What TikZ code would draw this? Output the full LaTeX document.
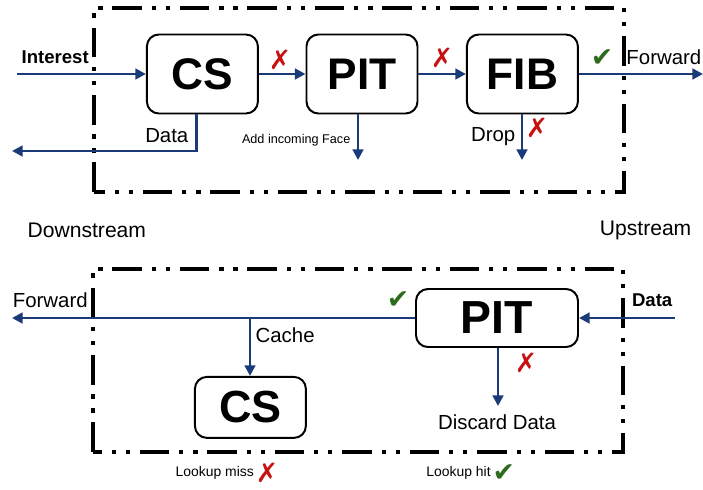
\documentclass[tikz,border=0pt]{standalone}
\usepackage{fontspec}
\setmainfont{Liberation Sans}
\newfontfamily\symfont{DejaVu Sans}
\usetikzlibrary{arrows.meta, positioning}
\definecolor{navy}{RGB}{27,58,120}
\definecolor{xred}{RGB}{200,16,16}
\definecolor{okgreen}{RGB}{47,107,31}

\begin{document}
\begin{tikzpicture}[
  unit/.style={draw, line width=1.4pt, rounded corners=8.5pt, font=\fontsize{31.5}{32}\bfseries,
    minimum width=2.775cm, minimum height=1.975cm},
  flow/.style={navy, line width=1.9pt, -{Triangle[length=7.5pt,width=7.5pt]}},
  stage/.style={line width=2.8pt, dash pattern=on 21pt off 7pt on 3pt off 7pt on 3pt off 7pt},
  lbl/.style={font=\fontsize{14.5}{15}\selectfont, inner sep=1pt},
  small/.style={font=\fontsize{9}{10}\selectfont, inner sep=1pt},
  miss/.style={xred, font=\symfont\fontsize{19}{19}\selectfont, inner sep=0pt},
  hit/.style={okgreen, font=\symfont\fontsize{19}{19}\selectfont, inner sep=0pt}
]
\useasboundingbox (0,0) rectangle (17.575,12.225);

% interest stage
\draw[stage] (2.35,7.425) rectangle (15.6,12.025);
\node[unit] (cs) at (5.06,10.375) {CS};
\node[unit] (pit) at (9.05,10.375) {PIT};
\node[unit] (fib) at (13.06,10.375) {FIB};

\coordinate (in) at (0.425,10.375);
\coordinate (out) at (17.575,10.375);
\coordinate (back) at (0.3,8.45);
\coordinate (pitdrop) at (8.95,8.225);
\coordinate (fibdrop) at (13.05,8.225);
\draw[flow] (in) -- (cs);
\draw[flow] (cs) -- (pit);
\draw[flow] (pit) -- (fib);
\draw[flow] (fib) -- (out);
\draw[flow] ([xshift=-4pt]cs.south) |- (back);
\draw[flow] (pit.south -| pitdrop) -- (pitdrop);
\draw[flow] (fib.south -| fibdrop) -- (fibdrop);

\node[lbl, anchor=west, font=\fontsize{13.2}{14}\bfseries] (interest) at (0.5,10.8) {Interest};
\node[lbl, anchor=east] (datalbl) at (4.75,8.825) {Data};
\node[small, anchor=east] (addface) at (8.8,8.725) {Add incoming Face};
\node[lbl, anchor=east] (drop) at (12.925,8.8) {Drop};
\node[lbl, anchor=west] (fwd1) at (15.62,10.8) {Forward};

\node[miss] (x1) at (7.0,10.725) {✗};
\node[miss] (x2) at (11.05,10.775) {✗};
\node[miss] (x3) at (13.425,9.025) {✗};
\node[hit] (ok1) at (15.05,10.775) {✔};

% sides
\node[lbl, anchor=west, font=\fontsize{15}{16}\selectfont] (down) at (0.65,6.475) {Downstream};
\node[lbl, anchor=east, font=\fontsize{15}{16}\selectfont] (up) at (17.325,6.475) {Upstream};

% data stage
\draw[stage] (2.325,0.925) rectangle (15.575,5.5);
\node[unit, minimum width=4.05cm, minimum height=1.45cm, font=\fontsize{33}{34}\bfseries] (pit2) at (12.425,4.275) {PIT};
\node[unit, font=\fontsize{32}{33}\bfseries, minimum height=1.525cm] (cs2) at (6.26,2.04) {CS};

\coordinate (datain) at (16.875,4.275);
\coordinate (fwd) at (0.3,4.275);
\coordinate (cachept) at (6.25,4.275);
\coordinate (discard) at (12.45,2.075);
\draw[flow] (datain) -- (pit2);
\draw[flow] (pit2) -- (fwd);
\draw[flow] (cachept) -- (cachept |- cs2.north);
\draw[flow] (pit2.south -| discard) -- (discard);

\node[lbl, anchor=west] (fwd2) at (0.28,4.725) {Forward};
\node[lbl, anchor=east, font=\fontsize{13.2}{14}\bfseries] (data2) at (16.85,4.725) {Data};
\node[lbl, anchor=west] (cache) at (6.35,3.85) {Cache};
\node[lbl] (discardlbl) at (12.425,1.675) {Discard Data};
\node[miss] (x4) at (13.15,3.15) {✗};
\node[hit] (ok2) at (9.95,4.725) {✔};

% lookup results
\node[small, anchor=west, font=\fontsize{9.9}{10}\selectfont] (misslbl) at (4.35,0.4) {Lookup miss};
\node[miss, right=0pt of misslbl] (x5) {✗};
\node[small, anchor=west, font=\fontsize{9.9}{10}\selectfont] (hitlbl) at (10.62,0.4) {Lookup hit};
\node[hit, right=0pt of hitlbl] (ok3) {✔};
\end{tikzpicture}
\end{document}
